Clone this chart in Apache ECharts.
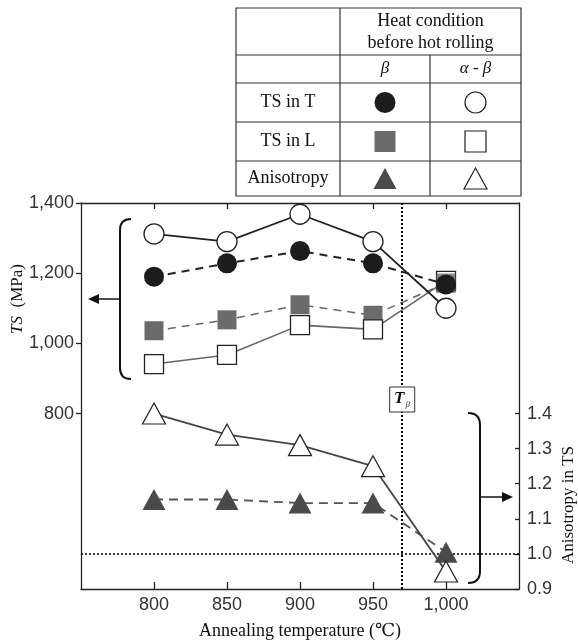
<!DOCTYPE html>
<html><head><meta charset="utf-8">
<script src="https://cdn.jsdelivr.net/npm/echarts@6/dist/echarts.min.js"></script>
<style>html,body{margin:0;padding:0;background:#fff}#c{width:578px;height:642px}</style>
</head><body><div id="c"></div>
<script>
// ---- data ----
const temps = [800, 850, 900, 950, 1000];
const tsT_beta = [1190, 1228, 1263, 1228, 1168];
const tsT_ab = [1312, 1290, 1368, 1290, 1100];
const tsL_beta = [1036, 1067, 1110, 1080, 1172];
const tsL_ab = [941, 967, 1052, 1040, 1178];
const aniso_beta = [1.155, 1.155, 1.145, 1.145, 1.005];
const aniso_ab = [1.40, 1.34, 1.31, 1.25, 0.95];
const tsTicks = [800, 1000, 1200, 1400];
const anisoTicks = [0.9, 1.0, 1.1, 1.2, 1.3, 1.4];
const tempTicks = [800, 850, 900, 950, 1000];
const tBeta = 970;
const anisoRef = 1.0;

const pair = arr => temps.map((t, i) => [t, arr[i]]);
const SERIF = '"Liberation Serif", "DejaVu Serif", serif';
const SANS = '"Liberation Sans", Arial, sans-serif';

const chart = echarts.init(document.getElementById('c'), null, {renderer: 'canvas'});

const axisLineStyle = {color: '#222', width: 1.3};
const option = {
  animation: false,
  backgroundColor: '#fff',
  grid: {left: 81, right: 59, top: 203, bottom: 53, containLabel: false, outerBoundsMode: 'none'},
  xAxis: [{
    type: 'value', min: 750, max: 1050, position: 'bottom',
    axisLine: {show: true, lineStyle: axisLineStyle},
    axisTick: {show: true, inside: true, length: 7, lineStyle: axisLineStyle, customValues: tempTicks},
    axisLabel: {customValues: tempTicks, margin: 7, fontFamily: SANS, fontSize: 18, color: '#333',
      formatter: v => Number(v).toLocaleString('en-US')},
    splitLine: {show: false},
    name: 'Annealing temperature (℃)', nameLocation: 'middle', nameGap: 33,
    nameTextStyle: {fontFamily: SERIF, fontSize: 18, color: '#111'}
  }, {
    type: 'value', min: 750, max: 1050, position: 'top',
    axisLine: {show: true, lineStyle: axisLineStyle},
    axisTick: {show: true, inside: true, length: 6, lineStyle: axisLineStyle, customValues: tempTicks},
    axisLabel: {show: false}, splitLine: {show: false}
  }],
  yAxis: [{
    type: 'value', min: 300, max: 1400, position: 'left',
    axisLine: {show: true, lineStyle: axisLineStyle},
    axisTick: {show: true, inside: false, length: 5, lineStyle: axisLineStyle, customValues: tsTicks},
    axisLabel: {customValues: tsTicks, margin: 7, fontFamily: SANS, fontSize: 18, color: '#333',
      formatter: v => Number(v).toLocaleString('en-US')},
    splitLine: {show: false}
  }, {
    type: 'value', min: 0.9, max: 2.0, position: 'right',
    axisLine: {show: true, lineStyle: axisLineStyle},
    axisTick: {show: true, inside: true, length: 4, lineStyle: axisLineStyle, customValues: anisoTicks},
    axisLabel: {customValues: anisoTicks, margin: 8, fontFamily: SANS, fontSize: 18, color: '#333',
      formatter: v => Number(v).toFixed(1)},
    splitLine: {show: false}
  }],
  series: [
    {
      name: 'TS in L (β)', type: 'line', data: pair(tsL_beta), z: 2,
      symbol: 'rect', symbolSize: 19,
      itemStyle: {color: '#6b6b6b'},
      lineStyle: {color: '#666', width: 1.5, type: [8, 6]},
      markLine: {
        silent: true, symbol: ['none', 'none'], label: {show: false},
        lineStyle: {color: '#000', width: 2, type: [2, 2]},
        data: [{xAxis: tBeta}]
      }
    },
    {
      name: 'TS in L (α-β)', type: 'line', data: pair(tsL_ab), z: 3,
      symbol: 'rect', symbolSize: 19,
      itemStyle: {color: '#fff', borderColor: '#222', borderWidth: 1.3},
      lineStyle: {color: '#666', width: 1.6, type: 'solid'}
    },
    {
      name: 'TS in L (β) top', type: 'scatter', z: 4,
      data: pair(tsL_beta).filter(d => d[0] === 1000),
      symbol: 'rect', symbolSize: 19, itemStyle: {color: '#6b6b6b'}
    },
    {
      name: 'TS in T (β)', type: 'line', data: pair(tsT_beta), z: 5,
      symbol: 'circle', symbolSize: 20,
      itemStyle: {color: '#1c1c1c'},
      lineStyle: {color: '#222', width: 2, type: [8, 6]}
    },
    {
      name: 'TS in T (α-β)', type: 'line', data: pair(tsT_ab), z: 5,
      symbol: 'circle', symbolSize: 20,
      itemStyle: {color: '#fff', borderColor: '#222', borderWidth: 1.3},
      lineStyle: {color: '#222', width: 1.8, type: 'solid'}
    },
    {
      name: 'Anisotropy (β)', type: 'line', yAxisIndex: 1, data: pair(aniso_beta), z: 5,
      symbol: 'triangle', symbolSize: [23, 21],
      itemStyle: {color: '#4a4a4a'},
      lineStyle: {color: '#555', width: 1.8, type: [9, 6]},
      markLine: {
        silent: true, symbol: ['none', 'none'], label: {show: false},
        lineStyle: {color: '#000', width: 1.5, type: [2, 2]},
        data: [{yAxis: anisoRef}]
      }
    },
    {
      name: 'Anisotropy (α-β)', type: 'line', yAxisIndex: 1, data: pair(aniso_ab), z: 6,
      symbol: 'triangle', symbolSize: [23, 21],
      itemStyle: {color: '#fff', borderColor: '#222', borderWidth: 1.2},
      lineStyle: {color: '#444', width: 1.8, type: 'solid'}
    }
  ]
};
chart.setOption(option);

// ---- decorations (table, brackets, labels) ----
const px = chart.convertToPixel({xAxisIndex: 0}, tBeta);
const stroke = {stroke: '#333', lineWidth: 1.2};
const g = [];
// table
const TL = 236, TR = 521, TT = 8, TB = 196;
const C1 = 340, C2 = 430;
const R = [TT, 55, 83, 122, 161, TB];
g.push({type: 'rect', shape: {x: TL, y: TT, width: TR - TL, height: TB - TT}, style: {fill: '#fff', ...stroke}});
[R[1], R[2], R[3], R[4]].forEach(y => g.push({type: 'line', shape: {x1: TL, y1: y, x2: TR, y2: y}, style: stroke}));
g.push({type: 'line', shape: {x1: C1, y1: TT, x2: C1, y2: TB}, style: stroke});
g.push({type: 'line', shape: {x1: C2, y1: R[1], x2: C2, y2: TB}, style: stroke});
const txt = (text, x, y, size, extra) => ({type: 'text', x, y, style: Object.assign({text, fontFamily: SERIF, fontSize: size, fill: '#111', align: 'center', verticalAlign: 'middle'}, extra || {})});
g.push(txt('Heat condition', (C1 + TR) / 2, 21, 18));
g.push(txt('before hot rolling', (C1 + TR) / 2, 43, 18));
g.push(txt('β', (C1 + C2) / 2, 69, 17, {fontStyle: 'italic'}));
g.push(txt('α - β', (C2 + TR) / 2, 69, 17, {fontStyle: 'italic'}));
g.push(txt('TS in T', (TL + C1) / 2, 102.5, 18));
g.push(txt('TS in L', (TL + C1) / 2, 141.5, 18));
g.push(txt('Anisotropy', (TL + C1) / 2, 178.5, 18));
const cx1 = (C1 + C2) / 2, cx2 = (C2 + TR) / 2;
g.push({type: 'circle', shape: {cx: cx1, cy: 102.5, r: 10.5}, style: {fill: '#1c1c1c'}});
g.push({type: 'circle', shape: {cx: cx2, cy: 102.5, r: 10.5}, style: {fill: '#fff', stroke: '#222', lineWidth: 1.2}});
g.push({type: 'rect', shape: {x: cx1 - 10.5, y: 131, width: 21, height: 21}, style: {fill: '#6b6b6b'}});
g.push({type: 'rect', shape: {x: cx2 - 10.5, y: 131, width: 21, height: 21}, style: {fill: '#fff', stroke: '#222', lineWidth: 1.2}});
g.push({type: 'polygon', shape: {points: [[cx1, 168], [cx1 - 11.5, 189], [cx1 + 11.5, 189]]}, style: {fill: '#4a4a4a'}});
g.push({type: 'polygon', shape: {points: [[cx2, 168], [cx2 - 11.5, 189], [cx2 + 11.5, 189]]}, style: {fill: '#fff', stroke: '#222', lineWidth: 1.2}});

const bstyle = {fill: null, stroke: '#111', lineWidth: 2};
// left bracket + arrow
g.push({type: 'bezierCurve', shape: {x1: 131, y1: 219, x2: 120, y2: 230, cpx1: 120, cpy1: 219}, style: bstyle});
g.push({type: 'line', shape: {x1: 120, y1: 230, x2: 120, y2: 368}, style: bstyle});
g.push({type: 'bezierCurve', shape: {x1: 120, y1: 368, x2: 131, y2: 379, cpx1: 120, cpy1: 379}, style: bstyle});
g.push({type: 'line', shape: {x1: 120, y1: 299, x2: 96, y2: 299}, style: {stroke: '#111', lineWidth: 1.5}});
g.push({type: 'polygon', shape: {points: [[88, 299], [99, 294], [99, 304]]}, style: {fill: '#111'}});
// right bracket + arrow
g.push({type: 'bezierCurve', shape: {x1: 468, y1: 413, x2: 480, y2: 425, cpx1: 480, cpy1: 413}, style: bstyle});
g.push({type: 'line', shape: {x1: 480, y1: 425, x2: 480, y2: 571}, style: bstyle});
g.push({type: 'bezierCurve', shape: {x1: 480, y1: 571, x2: 468, y2: 583, cpx1: 480, cpy1: 583}, style: bstyle});
g.push({type: 'line', shape: {x1: 480, y1: 497, x2: 504, y2: 497}, style: {stroke: '#111', lineWidth: 1.5}});
g.push({type: 'polygon', shape: {points: [[513, 497], [502, 492], [502, 502]]}, style: {fill: '#111'}});

// T_beta label box
g.push({type: 'rect', z: 50, shape: {x: px - 12.5, y: 387, width: 25, height: 25}, style: {fill: '#fff', stroke: '#333', lineWidth: 1}});
g.push({type: 'text', z: 51, x: px - 3, y: 399, style: {text: 'T', fontFamily: SERIF, fontStyle: 'italic', fontWeight: 'bold', fontSize: 17, fill: '#111', align: 'center', verticalAlign: 'middle'}});
g.push({type: 'text', z: 51, x: px + 5.5, y: 405, style: {text: 'β', fontFamily: SERIF, fontStyle: 'italic', fontSize: 9, fill: '#333', align: 'center', verticalAlign: 'middle'}});

// axis names
g.push({type: 'text', x: 18, y: 299, rotation: Math.PI / 2, style: {text: '{i|TS}  (MPa)', fontFamily: SERIF, fontSize: 17, fill: '#111', align: 'center', verticalAlign: 'middle', rich: {i: {fontFamily: SERIF, fontStyle: 'italic', fontSize: 17, fill: '#111'}}}});
g.push({type: 'text', x: 569, y: 505, rotation: Math.PI / 2, style: {text: 'Anisotropy in TS', fontFamily: SERIF, fontSize: 17, fill: '#111', align: 'center', verticalAlign: 'middle'}});

chart.setOption({graphic: {elements: g}});
</script>
</body></html>
